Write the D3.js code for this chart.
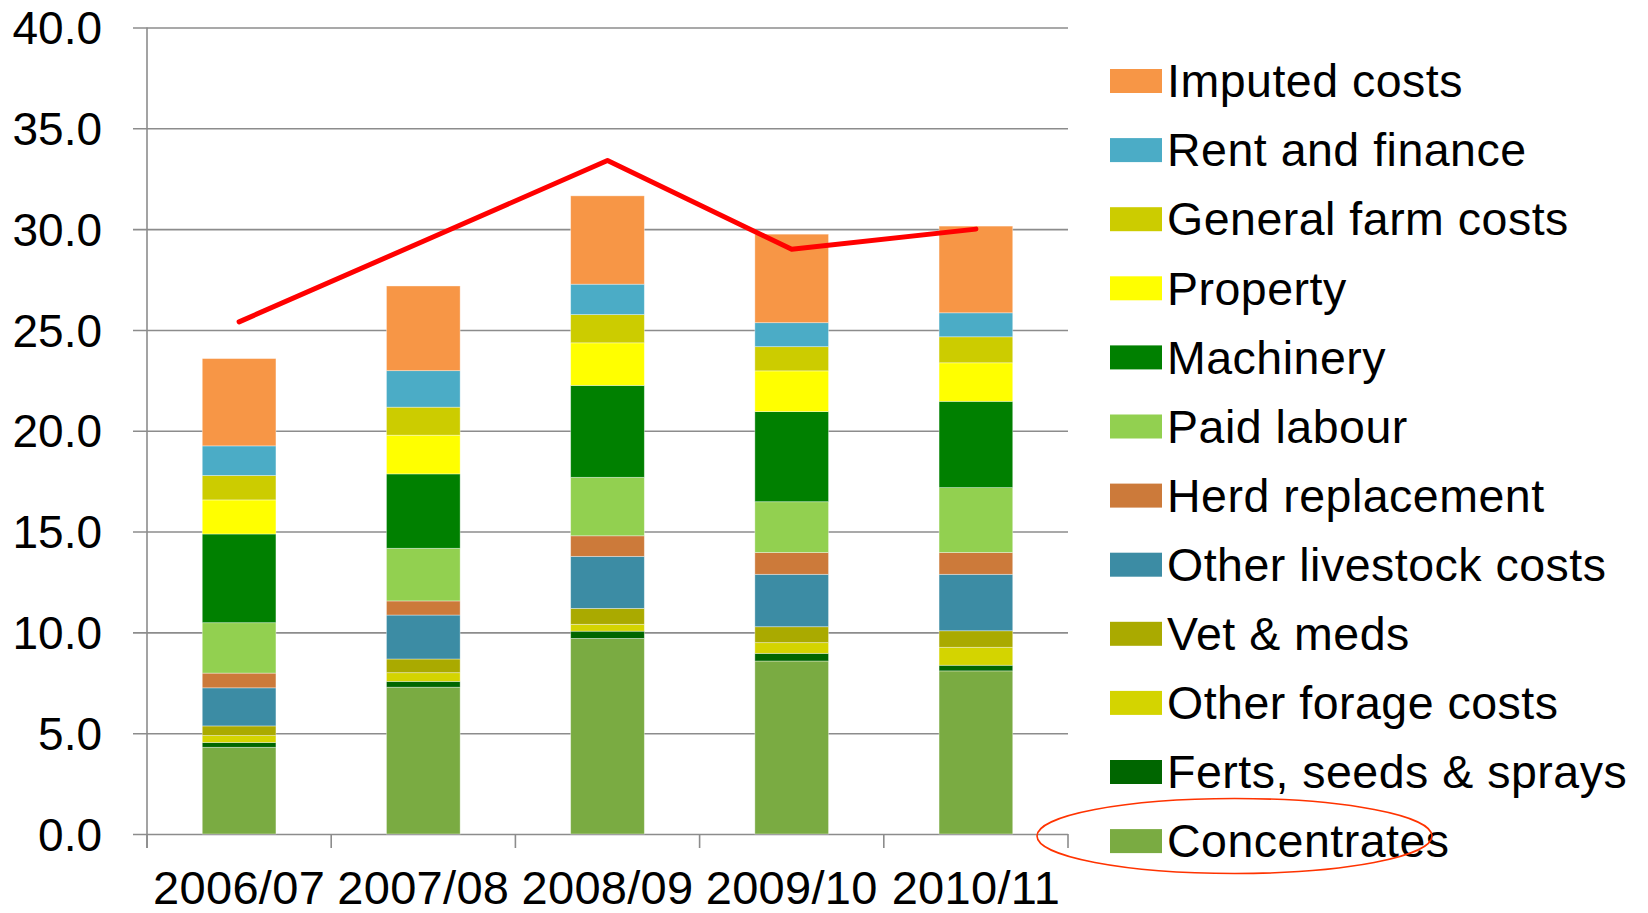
<!DOCTYPE html>
<html>
<head>
<meta charset="utf-8">
<script src="https://cdn.jsdelivr.net/npm/d3@7"></script>
<style>
  html, body { margin: 0; padding: 0; background: #fff; }
  svg { display: block; font-family: "Liberation Sans", Arial, sans-serif; }
</style>
</head>
<body>
<svg id="chart"></svg>
<script>
const years = ["2006/07", "2007/08", "2008/09", "2009/10", "2010/11"]

// cost components, bottom of the stack first
const concentrates   = [4.30, 7.28, 9.70, 8.58, 8.09]
const fertsSeeds     = [0.24, 0.29, 0.36, 0.38, 0.28]
const otherForage    = [0.34, 0.43, 0.34, 0.53, 0.89]
const vetMeds        = [0.48, 0.68, 0.79, 0.79, 0.82]
const otherLivestock = [1.89, 2.18, 2.58, 2.60, 2.80]
const herdReplace    = [0.73, 0.70, 1.02, 1.08, 1.08]
const paidLabour     = [2.50, 2.61, 2.90, 2.52, 3.22]
const machinery      = [4.40, 3.69, 4.56, 4.47, 4.28]
const property       = [1.69, 1.92, 2.11, 2.02, 1.91]
const generalFarm    = [1.21, 1.39, 1.40, 1.20, 1.29]
const rentFinance    = [1.47, 1.81, 1.51, 1.19, 1.19]
const imputed        = [4.33, 4.20, 4.38, 4.39, 4.30]

// the red line
const lineValues = [25.4, 29.4, 33.4, 29.0, 30.0]

const yTicks = [0, 5, 10, 15, 20, 25, 30, 35, 40]

const series = [
  { name: "Concentrates", values: concentrates, color: "#7aab42" },
  { name: "Ferts, seeds & sprays", values: fertsSeeds, color: "#006600" },
  { name: "Other forage costs", values: otherForage, color: "#d4d400" },
  { name: "Vet & meds", values: vetMeds, color: "#aaaa00" },
  { name: "Other livestock costs", values: otherLivestock, color: "#3c8ca4" },
  { name: "Herd replacement", values: herdReplace, color: "#cc7a3a" },
  { name: "Paid labour", values: paidLabour, color: "#92d050" },
  { name: "Machinery", values: machinery, color: "#008000" },
  { name: "Property", values: property, color: "#ffff00" },
  { name: "General farm costs", values: generalFarm, color: "#cccc00" },
  { name: "Rent and finance", values: rentFinance, color: "#4bacc6" },
  { name: "Imputed costs", values: imputed, color: "#f79646" }
]

const width = 1648
const height = 913

const svg = d3.select("#chart")
  .attr("width", width)
  .attr("height", height)
  .attr("viewBox", [0, 0, width, height])

const x = d3.scaleBand()
  .domain(years)
  .range([147, 1068])
  .paddingInner(0.6)
  .paddingOuter(0.3)

const y = d3.scaleLinear()
  .domain([0, 40])
  .range([834, 27.5])

const gridColor = "#8c8c8c"

// gridlines + y axis
const yAxis = d3.axisLeft(y)
  .tickValues(yTicks)
  .tickFormat(d3.format(".1f"))
  .tickSizeInner(-(1068 - 147))
  .tickPadding(0)

const yg = svg.append("g")
  .attr("transform", "translate(147,0)")
  .call(yAxis)
yg.select(".domain").remove()
yg.selectAll(".tick line")
  .attr("x1", -14)
  .attr("x2", 1068 - 147)
  .attr("stroke", gridColor)
  .attr("stroke-width", 1.6)
yg.selectAll(".tick text")
  .attr("x", -45)
  .attr("dy", "0.35em")
  .attr("fill", "#000")
  .attr("font-size", 46)
  .attr("font-family", "'Liberation Sans', Arial, sans-serif")

svg.append("line")
  .attr("x1", 147).attr("x2", 147)
  .attr("y1", y(40)).attr("y2", 848)
  .attr("stroke", gridColor)
  .attr("stroke-width", 1.6)

// category boundary ticks under the x axis
const step = x.step()
svg.append("g")
  .selectAll("line")
  .data(d3.range(years.length + 1))
  .join("line")
  .attr("x1", i => 147 + i * step)
  .attr("x2", i => 147 + i * step)
  .attr("y1", y(0))
  .attr("y2", 848)
  .attr("stroke", gridColor)
  .attr("stroke-width", 1.6)

// stacked bars
const table = years.map((yr, i) => {
  const row = { year: yr }
  series.forEach(s => { row[s.name] = s.values[i] })
  return row
})

const stack = d3.stack().keys(series.map(s => s.name))
const stacked = stack(table)

svg.append("g")
  .selectAll("g")
  .data(stacked)
  .join("g")
  .attr("fill", (d, i) => series[i].color)
  .selectAll("rect")
  .data(d => d)
  .join("rect")
  .attr("x", d => x(d.data.year))
  .attr("width", x.bandwidth())
  .attr("y", d => y(d[1]))
  .attr("height", d => y(d[0]) - y(d[1]))
  .attr("stroke", "rgba(255,255,255,0.45)")
  .attr("stroke-width", 0.8)

// x labels
svg.append("g")
  .selectAll("text")
  .data(years)
  .join("text")
  .attr("x", d => x(d) + x.bandwidth() / 2)
  .attr("y", 904)
  .attr("text-anchor", "middle")
  .attr("font-size", 47)
  .attr("letter-spacing", 0.3)
  .attr("fill", "#000")
  .text(d => d)

// red line
const line = d3.line()
  .x((d, i) => x(years[i]) + x.bandwidth() / 2)
  .y(d => y(d))

svg.append("path")
  .datum(lineValues)
  .attr("d", line)
  .attr("fill", "none")
  .attr("stroke", "#ff0000")
  .attr("stroke-width", 5)
  .attr("stroke-linejoin", "round")
  .attr("stroke-linecap", "round")

// legend, top entry is the top of the stack
const legendItems = series.slice().reverse()
const legend = svg.append("g")
  .selectAll("g")
  .data(legendItems)
  .join("g")
  .attr("transform", (d, i) => `translate(1110,${81 + i * 69.1})`)

legend.append("rect")
  .attr("x", 0)
  .attr("y", -12)
  .attr("width", 52)
  .attr("height", 24)
  .attr("fill", d => d.color)

legend.append("text")
  .attr("x", 57)
  .attr("y", 0)
  .attr("dy", "0.35em")
  .attr("font-size", 46.5)
  .attr("letter-spacing", 0.5)
  .attr("fill", "#000")
  .text(d => d.name)

// hand-drawn highlight around Concentrates
svg.append("ellipse")
  .attr("cx", 1234.5)
  .attr("cy", 836)
  .attr("rx", 197.5)
  .attr("ry", 37.5)
  .attr("fill", "none")
  .attr("stroke", "#ff3300")
  .attr("stroke-width", 1.6)
</script>
</body>
</html>
